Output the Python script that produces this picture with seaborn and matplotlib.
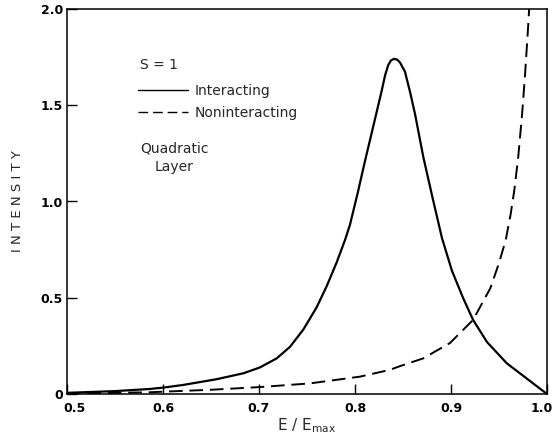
import matplotlib
matplotlib.use("Agg")
import matplotlib.pyplot as plt
import matplotlib.transforms as mtransforms
import seaborn as sns
import pandas as pd

# Data
e_interacting = [0.50, 0.55, 0.586, 0.600, 0.621, 0.656, 0.684, 0.701, 0.7184, 0.7323,
                 0.7462, 0.760, 0.7705, 0.781, 0.7896, 0.7948, 0.8026, 0.8104, 0.819,
                 0.8278, 0.8313, 0.8347, 0.8375, 0.8406, 0.8440, 0.8469, 0.852, 0.8573,
                 0.8625, 0.8712, 0.881, 0.8906, 0.901, 0.9125, 0.923, 0.9375, 0.958,
                 0.979, 1.0]
i_interacting = [0.006, 0.015, 0.026, 0.033, 0.047, 0.077, 0.108, 0.138, 0.185, 0.245,
                 0.335, 0.450, 0.560, 0.685, 0.800, 0.88, 1.04, 1.21, 1.39,
                 1.575, 1.655, 1.71, 1.733, 1.741, 1.737, 1.722, 1.675, 1.57,
                 1.455, 1.23, 1.015, 0.81, 0.64, 0.50, 0.385, 0.27, 0.16,
                 0.08, 0.0]

e_nonint = [0.50, 0.55, 0.586, 0.60, 0.65, 0.701, 0.753, 0.805, 0.836, 0.847, 0.871,
            0.899, 0.923, 0.941, 0.950, 0.957, 0.962, 0.966, 0.970, 0.974, 0.977,
            0.980, 0.982]
i_nonint = [0.003, 0.006, 0.009, 0.012, 0.022, 0.036, 0.055, 0.090, 0.125, 0.145, 0.185,
            0.265, 0.385, 0.55, 0.68, 0.80, 0.93, 1.06, 1.23, 1.45, 1.65,
            1.88, 2.05]

x_ticks = [0.5, 0.6, 0.7, 0.8, 0.9, 1.0]
x_ticklabels = ["0.5", "0.6", "0.7", "0.8", "0.9", "1.0"]
y_ticks = [0, 0.5, 1.0, 1.5, 2.0]
y_ticklabels = ["0", "0.5", "1.0", "1.5", "2.0"]

df_int = pd.DataFrame({"E": e_interacting, "I": i_interacting})
df_non = pd.DataFrame({"E": e_nonint, "I": i_nonint})

sns.set_theme(style="ticks")
plt.rcParams["font.family"] = ["DejaVu Sans"]
plt.rcParams["mathtext.fontset"] = "dejavusans"

fig = plt.figure(figsize=(5.55, 4.4), dpi=100)
ax = fig.add_axes([67 / 555, 1 - 394 / 440, 480 / 555, 385 / 440])

sns.lineplot(data=df_int, x="E", y="I", ax=ax, color="black", linewidth=1.6,
             label="Interacting", sort=False)
sns.lineplot(data=df_non, x="E", y="I", ax=ax, color="black", linewidth=1.4,
             label="Noninteracting", sort=False)
ax.lines[1].set_dashes([7, 3.5])

ax.set_xlim(0.5, 1.0)
ax.set_ylim(0, 2.0)
ax.set_xticks(x_ticks)
ax.set_xticklabels(x_ticklabels, fontsize=9, fontweight="bold")
ax.set_yticks(y_ticks)
ax.set_yticklabels(y_ticklabels, fontsize=9, fontweight="bold")
ax.tick_params(axis="both", direction="in", length=7, width=1, colors="black")
ax.tick_params(axis="x", pad=6)
ax.tick_params(axis="y", pad=3)
for s in ax.spines.values():
    s.set_visible(True)
    s.set_linewidth(1.1)
    s.set_color("black")

# keep the end x labels inside the frame, as in the reference
xl = ax.get_xticklabels()
xl[0].set_transform(xl[0].get_transform() +
                    mtransforms.ScaledTranslation(8 / 100, 0, fig.dpi_scale_trans))
xl[-1].set_transform(xl[-1].get_transform() +
                     mtransforms.ScaledTranslation(-5 / 100, 0, fig.dpi_scale_trans))

ax.set_xlabel(r"E / E$_{\mathrm{max}}$", fontsize=11)
ax.xaxis.set_label_coords(0.5, -0.058)
ax.set_ylabel("I N T E N S I T Y", fontsize=9.5)
ax.yaxis.set_label_coords(-0.09, 0.5)

ax.text(0.152, (394 - 65) / 385, "S = 1", transform=ax.transAxes, ha="left",
        va="center", fontsize=10)

leg = ax.legend(loc="upper left", bbox_to_anchor=(0.148, (394 - 84) / 385),
                frameon=False, fontsize=10, handlelength=3.6,
                handletextpad=0.5, labelspacing=0.58, borderpad=0, borderaxespad=0)
for line in leg.get_lines():
    line.set_linewidth(1.0)

ax.text(0.152, (394 - 141) / 385, "Quadratic\nLayer", transform=ax.transAxes,
        ha="left", va="top", multialignment="center", fontsize=10, linespacing=1.45)

fig.savefig("out.png", dpi=100, facecolor="white")
